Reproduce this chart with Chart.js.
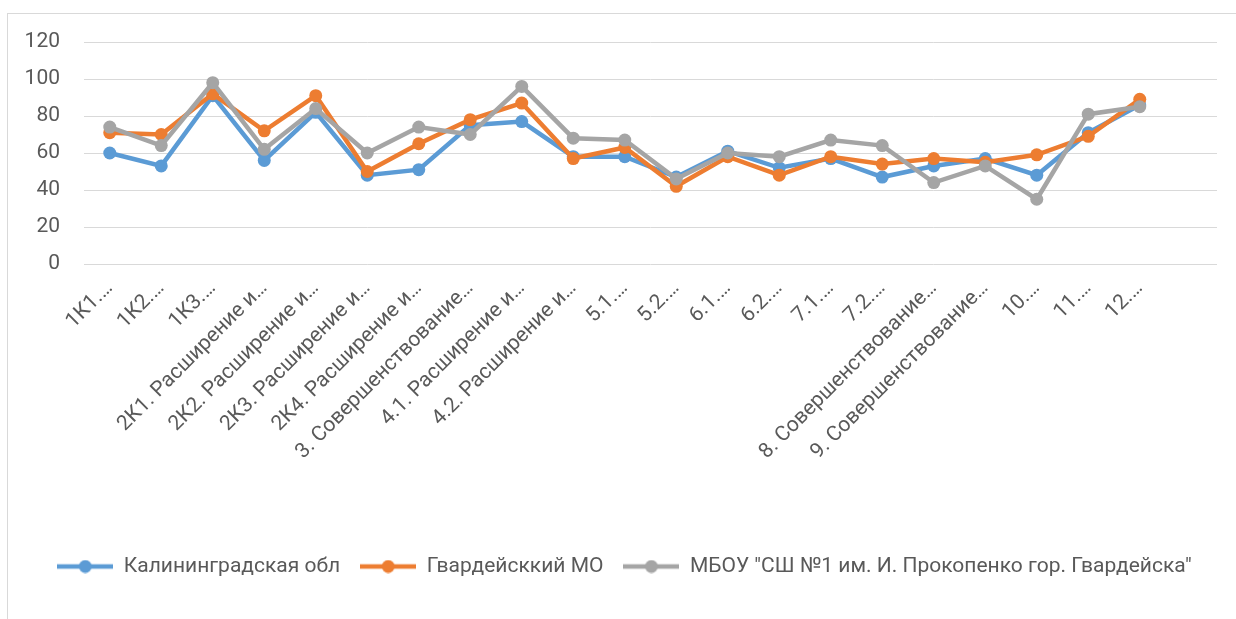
<!DOCTYPE html>
<html>
<head>
<meta charset="utf-8">
<script src="https://cdn.jsdelivr.net/npm/chart.js@4.4.1/dist/chart.umd.min.js"></script>
<style>
  html, body { margin: 0; padding: 0; background: #fff; }
  #wrap { position: relative; width: 1236px; height: 619px; overflow: hidden; }
  #frame { position: absolute; left: 7px; top: 13px; width: 1300px; height: 700px;
           border-left: 1px solid #d9d9d9; border-top: 1px solid #d9d9d9; }
  #chart { position: absolute; left: 0; top: 0; }
</style>
</head>
<body>
<div id="wrap">
  <div id="frame"></div>
  <canvas id="chart" width="1236" height="619"></canvas>
</div>
<script>
const categories = [
  '1К1.…', '1К2.…', '1К3.…',
  '2К1. Расширение и…', '2К2. Расширение и…', '2К3. Расширение и…', '2К4. Расширение и…',
  '3. Совершенствование…', '4.1. Расширение и…', '4.2. Расширение и…',
  '5.1.…', '5.2.…', '6.1.…', '6.2.…', '7.1.…', '7.2.…',
  '8. Совершенствование…', '9. Совершенствование…', '10.…', '11.…', '12.…', ''
];

const seriesNames = [
  'Калининградская обл',
  'Гвардейсккий МО',
  'МБОУ "СШ №1 им. И. Прокопенко гор. Гвардейска"'
];

const kaliningrad = [60, 53, 91, 56, 82, 48, 51, 75, 77, 58, 58, 47, 61, 52, 57, 47, 53, 57, 48, 71, 86];
const gvardeysk   = [71, 70, 92, 72, 91, 50, 65, 78, 87, 57, 63, 42, 58, 48, 58, 54, 57, 55, 59, 69, 89];
const school      = [74, 64, 98, 62, 84, 60, 74, 70, 96, 68, 67, 46, 60, 58, 67, 64, 44, 53, 35, 81, 85];

const yTicks = [0, 20, 40, 60, 80, 100, 120];

const colors = ['#5b9bd5', '#ed7d31', '#a5a5a5'];
const FONT = 'Roboto, "Liberation Sans", sans-serif';
const TEXT = '#595959';

// legend marker: short line with a dot in the middle (Excel style)
const makeMarker = (color) => {
  const c = document.createElement('canvas');
  c.width = 56; c.height = 14;
  const g = c.getContext('2d');
  g.strokeStyle = color;
  g.lineWidth = 4.5;
  g.beginPath(); g.moveTo(0, 7); g.lineTo(56, 7); g.stroke();
  g.fillStyle = color;
  g.beginPath(); g.arc(28, 7, 6.5, 0, Math.PI * 2); g.fill();
  return c;
};
const markers = colors.map(makeMarker);

const series = [kaliningrad, gvardeysk, school];

// the legend in the original sits a bit right of centre
const legendShift = {
  id: 'legendShift',
  afterLayout(chart) {
    if (!chart.legend) return;
    chart.legend.left += 16;
    chart.legend.right += 16;
  }
};

new Chart(document.getElementById('chart').getContext('2d'), {
  type: 'line',
  data: {
    labels: categories,
    datasets: series.map((vals, i) => ({
      label: seriesNames[i],
      data: vals,
      borderColor: colors[i],
      backgroundColor: colors[i],
      borderWidth: 4.5,
      pointRadius: 6.5,
      pointHoverRadius: 6.5,
      pointBorderWidth: 0,
      pointBackgroundColor: colors[i],
      tension: 0,
      fill: false,
      order: 2 - i   // later series drawn on top, like Excel
    }))
  },
  options: {
    responsive: false,
    animation: false,
    layout: { padding: { top: 42, right: 19, bottom: 32, left: 0 } },
    plugins: {
      tooltip: { enabled: false },
      legend: {
        position: 'bottom',
        labels: {
          usePointStyle: true,
          pointStyleWidth: 56,
          boxHeight: 14,
          padding: 20,
          color: TEXT,
          font: { family: FONT, size: 21 },
          sort: (a, b) => a.datasetIndex - b.datasetIndex,
          generateLabels(chart) {
            const items = Chart.defaults.plugins.legend.labels.generateLabels(chart);
            items.forEach(it => { it.pointStyle = markers[it.datasetIndex]; });
            return items;
          }
        }
      }
    },
    scales: {
      x: {
        offset: true,
        grid: { display: false, offset: true },
        border: { display: false },
        ticks: {
          autoSkip: false,
          minRotation: 45,
          maxRotation: 45,
          padding: 4,
          color: TEXT,
          font: { family: FONT, size: 21 }
        },
        afterFit(scale) { scale.height = 272; }
      },
      y: {
        min: 0,
        max: 120,
        afterBuildTicks(scale) { scale.ticks = yTicks.map(v => ({ value: v })); },
        grid: { color: '#d9d9d9', lineWidth: 1, drawTicks: false },
        border: { display: false },
        ticks: {
          padding: 24,
          color: TEXT,
          font: { family: FONT, size: 21 }
        },
        afterFit(scale) { scale.width = 84; }
      }
    }
  },
  plugins: [legendShift]
});
</script>
</body>
</html>
